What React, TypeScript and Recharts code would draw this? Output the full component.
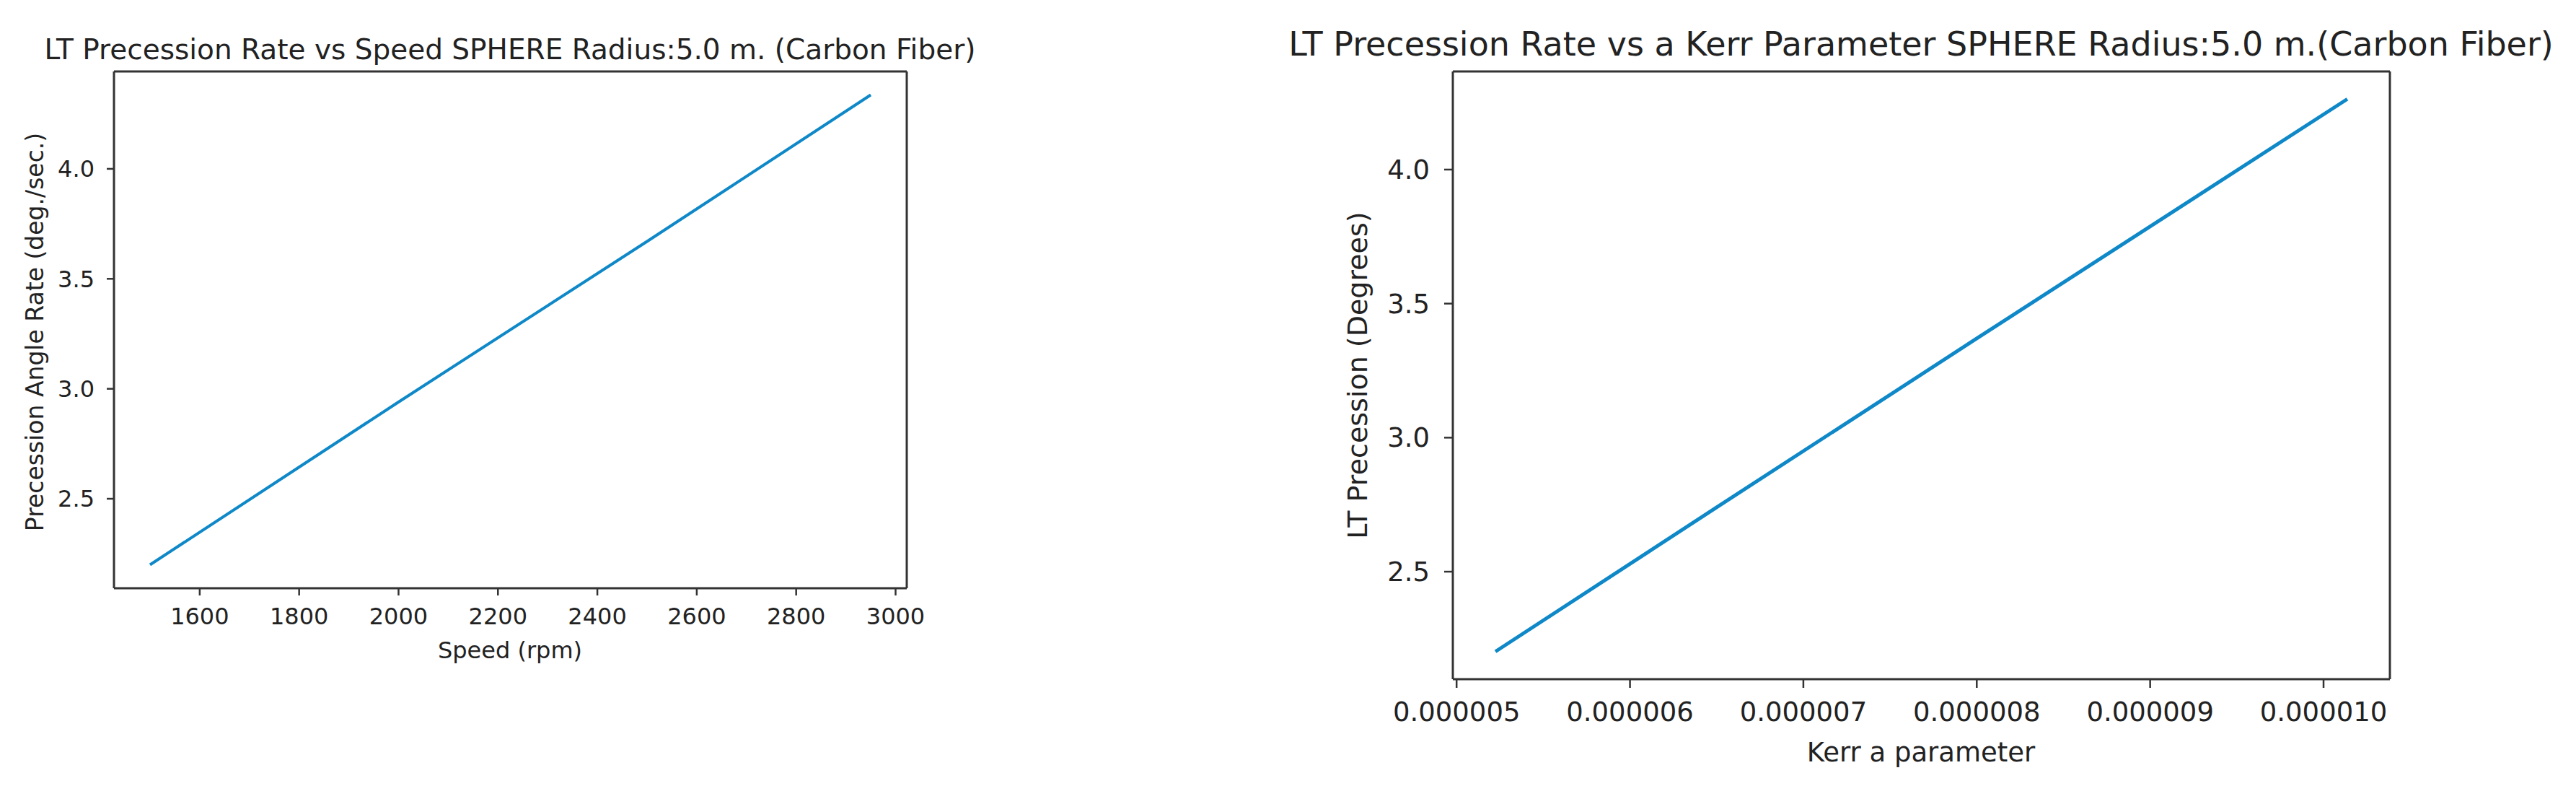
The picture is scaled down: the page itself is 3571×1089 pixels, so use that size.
import { LineChart, Line, XAxis, YAxis, ReferenceLine } from 'recharts'

// left panel: precession rate vs spin speed
const speedRpm = [1500, 2000, 2500, 2950]
const precessionRate = [2.2, 2.94, 3.67, 4.336]
const speedTicks = [1600, 1800, 2000, 2200, 2400, 2600, 2800, 3000]
const rateTicks = [2.5, 3.0, 3.5, 4.0]

// right panel: LT precession vs Kerr a parameter
const kerrA = [5.224e-6, 6.5e-6, 8.0e-6, 10.137e-6]
const ltPrecession = [2.202, 2.74, 3.37, 4.263]
const kerrTicks = [5e-6, 6e-6, 7e-6, 8e-6, 9e-6, 1e-5]
const ltTicks = [2.5, 3.0, 3.5, 4.0]

const FONT = 'DejaVu Sans'
const INK = '#222'
const SPINE = '#333'
const BLUE = '#0f88c8'

// matplotlib-style 5% margins around the data range
function pad(vals: number[]): [number, number] {
  const lo = Math.min(...vals)
  const hi = Math.max(...vals)
  const m = (hi - lo) * 0.05
  return [lo - m, hi + m]
}

const leftData = speedRpm.map((x, i) => ({ x, y: precessionRate[i] }))
const rightData = kerrA.map((x, i) => ({ x, y: ltPrecession[i] }))

function Panel({ data, xTicks, yTicks, xFmt, yFmt, width, yAxisW, margin, fontSize, tickSize, tickMargin, lineW }: any) {
  const xDom = pad(data.map((d: any) => d.x))
  const yDom = pad(data.map((d: any) => d.y))
  const axisLine = { stroke: SPINE, strokeWidth: 3 }
  const tickLine = { stroke: SPINE, strokeWidth: 2.5 }
  const tick = { fill: INK, fontSize, fontFamily: FONT }
  return (
    <LineChart width={width} height={1089} data={data} margin={margin}>
      <XAxis dataKey="x" type="number" domain={xDom} ticks={xTicks} tickFormatter={xFmt} interval={0}
        height={60} axisLine={axisLine} tickLine={tickLine} tick={tick} tickSize={tickSize} tickMargin={tickMargin} />
      <YAxis type="number" domain={yDom} ticks={yTicks} tickFormatter={yFmt} interval={0} width={yAxisW}
        axisLine={axisLine} tickLine={tickLine} tick={tick} tickSize={tickSize} tickMargin={tickMargin} />
      {/* top and right spines */}
      <ReferenceLine y={yDom[1]} stroke={SPINE} strokeWidth={3} />
      <ReferenceLine x={xDom[1]} stroke={SPINE} strokeWidth={3} />
      <Line type="linear" dataKey="y" stroke={BLUE} strokeWidth={lineW} dot={false} isAnimationActive={false} />
    </LineChart>
  )
}

export default function App() {
  return (
    <div style={{ position: 'absolute', left: 0, top: 0, width: 3571, height: 1089, background: '#fff' }}>
      <div style={{ position: 'absolute', left: 0, top: 0 }}>
        <Panel data={leftData} xTicks={speedTicks} yTicks={rateTicks}
          xFmt={(v: number) => String(v)} yFmt={(v: number) => v.toFixed(1)}
          width={1300} yAxisW={158} margin={{ top: 99, right: 43, bottom: 214, left: 0 }}
          fontSize={32} tickSize={10} tickMargin={17} lineW={4} />
      </div>
      <div style={{ position: 'absolute', left: 1700, top: 0 }}>
        <Panel data={rightData} xTicks={kerrTicks} yTicks={ltTicks}
          xFmt={(v: number) => v.toFixed(6)} yFmt={(v: number) => v.toFixed(1)}
          width={1700} yAxisW={314} margin={{ top: 99, right: 87, bottom: 88, left: 0 }}
          fontSize={37} tickSize={12} tickMargin={20} lineW={5} />
      </div>
      <svg width={3571} height={1089} style={{ position: 'absolute', left: 0, top: 0, pointerEvents: 'none' }}
        fontFamily={FONT} fill={INK}>
        <text x={707} y={82} fontSize={39} textAnchor="middle">
          LT Precession Rate vs Speed SPHERE Radius:5.0 m. (Carbon Fiber)
        </text>
        <text x={707} y={912} fontSize={32} textAnchor="middle">Speed (rpm)</text>
        <text x={60} y={460} fontSize={33} textAnchor="middle" transform="rotate(-90 60 460)">
          Precession Angle Rate (deg./sec.)
        </text>
        <text x={2663} y={77} fontSize={46} textAnchor="middle">
          LT Precession Rate vs a Kerr Parameter SPHERE Radius:5.0 m.(Carbon Fiber)
        </text>
        <text x={2663} y={1055} fontSize={37} textAnchor="middle">Kerr a parameter</text>
        <text x={1895} y={520} fontSize={38} textAnchor="middle" transform="rotate(-90 1895 520)">
          LT Precession (Degrees)
        </text>
      </svg>
    </div>
  )
}
